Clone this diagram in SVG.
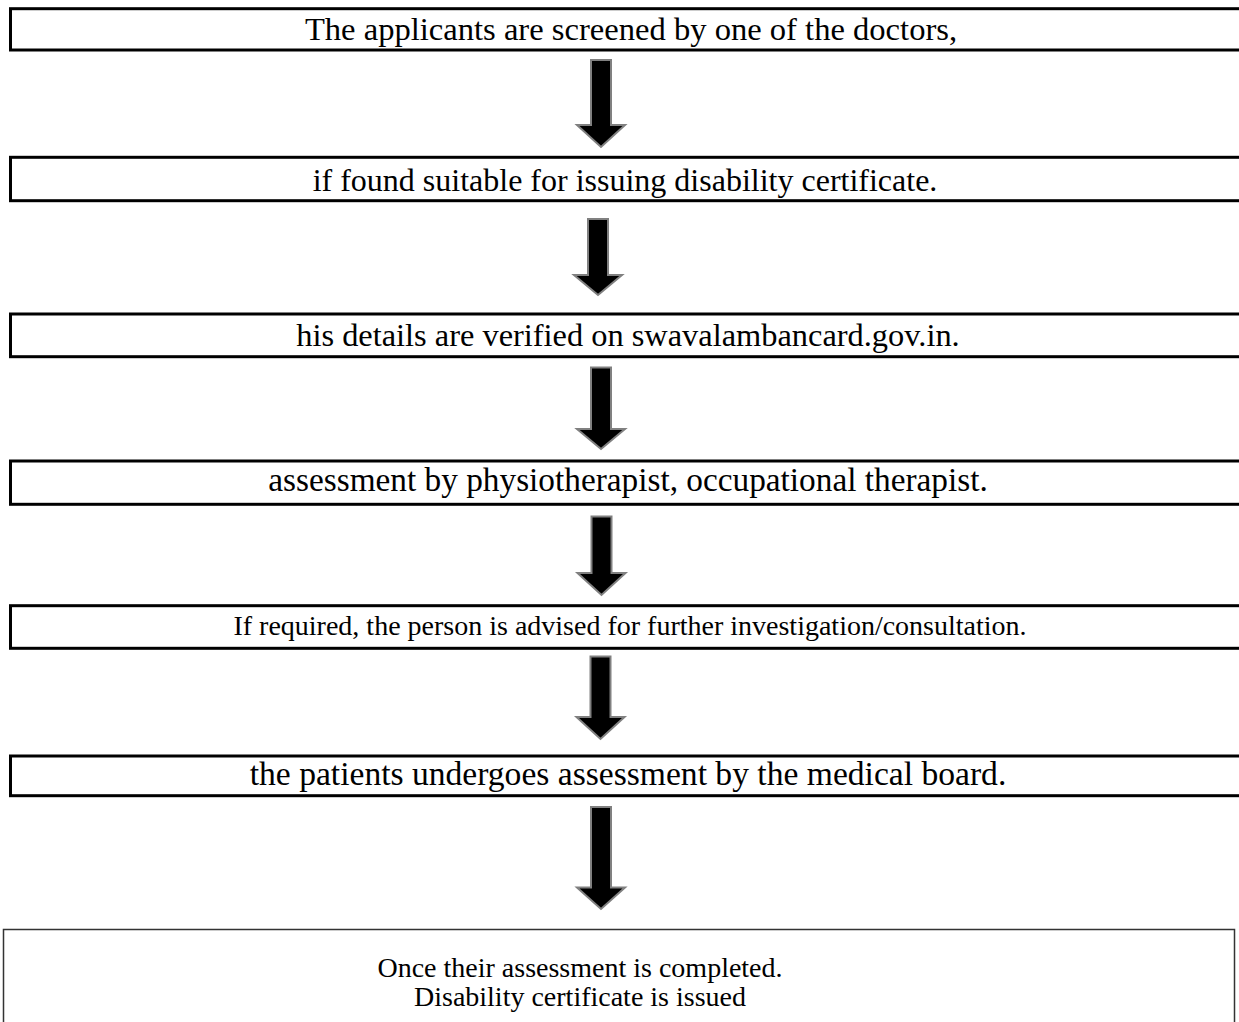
<svg xmlns="http://www.w3.org/2000/svg" width="1239" height="1022" viewBox="0 0 1239 1022">
<style>
.box{fill:#fff;stroke:#000;stroke-width:3}
.last{fill:#fff;stroke:#333;stroke-width:1.5}
.t{font-family:"Liberation Serif","Times New Roman",serif;font-size:33px;fill:#000;text-anchor:middle}
.s{font-size:28px}
.arr{fill:#000;stroke:#808080;stroke-width:2;stroke-linejoin:miter}
</style>
<rect width="1239" height="1022" fill="#fff"/>
<g id="connectors">
<path class="arr" d="M591,60 H611 V125 H625 L601,147 L577,125 H591 Z"/>
<path class="arr" d="M588,219 H608 V275 H622 L598,295 L574,275 H588 Z"/>
<path class="arr" d="M591,367.5 H611 V429 H625 L601,449 L577,429 H591 Z"/>
<path class="arr" d="M591.5,516.5 H611.5 V573 H625.5 L601.5,595 L577.5,573 H591.5 Z"/>
<path class="arr" d="M590.5,656.5 H610.5 V717 H624.5 L600.5,739 L576.5,717 H590.5 Z"/>
<path class="arr" d="M591,807 H611 V887.5 H625 L601,909 L577,887.5 H591 Z"/>
</g>
<g id="node1"><rect class="box" x="10.5" y="8.7" width="1240" height="41.3"/><text class="t" style="font-size:32.6px" x="631" y="40">The applicants are screened by one of the doctors,</text></g>
<g id="node2"><rect class="box" x="10.5" y="157.3" width="1240" height="43.4"/><text class="t" style="font-size:32px" x="625" y="191">if found suitable for issuing disability certificate.</text></g>
<g id="node3"><rect class="box" x="10.5" y="314" width="1240" height="42.7"/><text class="t" style="font-size:32.4px" x="628" y="346">his details are verified on swavalambancard.gov.in.</text></g>
<g id="node4"><rect class="box" x="10.5" y="461" width="1240" height="43.3"/><text class="t" style="font-size:33.3px" x="628" y="491">assessment by physiotherapist, occupational therapist.</text></g>
<g id="node5"><rect class="box" x="10.5" y="605.7" width="1240" height="42.6"/><text class="t s" x="630" y="635">If required, the person is advised for further investigation/consultation.</text></g>
<g id="node6"><rect class="box" x="10.5" y="756" width="1240" height="39.7"/><text class="t" style="font-size:33.6px" x="628" y="785">the patients undergoes assessment by the medical board.</text></g>
<g id="node7"><rect class="last" x="3.5" y="929.5" width="1231" height="100"/><text class="t s" x="580" y="977">Once their assessment is completed.</text><text class="t s" x="580" y="1006">Disability certificate is issued</text></g>
</svg>
